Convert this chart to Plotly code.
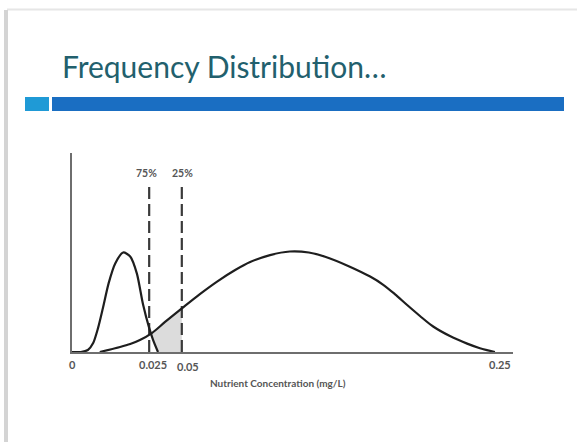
import numpy as np
import plotly.graph_objects as go

# ---- data (schematic positions on a 0-100 axis, heights 0-100) ----
narrow_x = [0, 2.0, 3.6, 4.8, 5.9, 7.0, 8.3, 9.8, 11.6, 13.2, 14.7, 16.1, 17.5, 18.4, 19.5]
narrow_y = [0, 0, 1.0, 4.5, 12.0, 22.0, 34.5, 44.5, 50.0, 48.0, 39.5, 24.0, 12.1, 6.0, 0]

broad_x = [6.3, 10.9, 13.2, 15.4, 18.1, 21.1, 24.9, 29.0, 32.9, 37.0, 40.4, 44.9, 49.4,
           53.7, 57.4, 63.0, 67.6, 70.5, 73.2, 76.0, 78.9, 81.9, 85.7, 89.6, 92.5, 95.9]
broad_y = [0, 2.5, 4.0, 6.0, 9.5, 15.1, 21.9, 29.1, 35.4, 41.2, 45.2, 48.7, 50.5,
           50.0, 47.9, 42.9, 37.9, 33.9, 29.1, 23.6, 18.1, 12.8, 8.0, 4.2, 1.9, 0]

tick_pos = [0, 17.5, 24.9, 95.9]
tick_labels = ["0", "0.025", "0.05", "0.25"]

cut_pos = [17.5, 24.9]
cut_labels = ["75%", "25%"]
cut_top = 82.9

title_text = "Frequency Distribution…"
x_title = "Nutrient Concentration (mg/L)"

W, H = 577, 442

def px(x):
    return x / W

def py(y):
    return 1 - y / H

fig = go.Figure()

# shaded area between crossing and second cut
grid = np.linspace(cut_pos[0], cut_pos[1], 200)
nb = np.interp(grid, broad_x, broad_y)
nn = np.interp(grid, narrow_x, narrow_y, right=0)
mask = nn <= nb
gx = grid[mask]
fig.add_trace(go.Scatter(x=gx, y=np.clip(nn[mask], 0, None), mode="lines",
                         line=dict(width=0), hoverinfo="skip", showlegend=False))
fig.add_trace(go.Scatter(x=gx, y=nb[mask], mode="lines", fill="tonexty",
                         fillcolor="#dcdcdc", line=dict(width=0),
                         hoverinfo="skip", showlegend=False))

# dashed cut lines
for c in cut_pos:
    fig.add_trace(go.Scatter(x=[c, c], y=[0, cut_top], mode="lines",
                             line=dict(color="#3a3a3a", width=2.2, dash="12px,5px"),
                             hoverinfo="skip", showlegend=False))

# curves
fig.add_trace(go.Scatter(x=broad_x, y=broad_y, mode="lines",
                         line=dict(color="#1e1e1e", width=2.2, shape="spline", smoothing=0.9),
                         showlegend=False))
fig.add_trace(go.Scatter(x=narrow_x, y=narrow_y, mode="lines",
                         line=dict(color="#1e1e1e", width=2.2, shape="spline", smoothing=0.7),
                         showlegend=False))

annotations = []
# cut labels
for c, lab, sh in zip(cut_pos, cut_labels, [-3, 1]):
    annotations.append(dict(x=c, y=cut_top, xref="x", yref="y", text=lab,
                            showarrow=False, yanchor="bottom", yshift=6, xshift=sh,
                            font=dict(family="Lato", size=10.5, color="#555555", weight="bold")))
# tick labels
for t, lab, sh, ys in zip(tick_pos, tick_labels, [0, 4, 6, 5], [0, 0, -2, 0]):
    annotations.append(dict(x=t, y=0, xref="x", yref="y", text=lab, showarrow=False,
                            yanchor="top", yshift=-4 + ys, xshift=sh,
                            font=dict(family="Lato", size=11, color="#555555", weight="bold")))
# axis title
annotations.append(dict(x=px(278), y=py(383), xref="paper", yref="paper", text=x_title,
                        showarrow=False, xanchor="center", yanchor="middle",
                        font=dict(family="Lato", size=10, color="#555555", weight="bold")))
# slide title
annotations.append(dict(x=px(60), y=py(66), xref="paper", yref="paper", text=title_text,
                        showarrow=False, xanchor="left", yanchor="middle",
                        font=dict(family="Lato", size=30, color="#22606d")))

shapes = [
    # slide edge (top line and left shadow)
    dict(type="line", xref="paper", yref="paper", x0=px(7), x1=1, y0=py(9.5), y1=py(9.5),
         line=dict(color="#e6e6e6", width=2)),
    dict(type="rect", xref="paper", yref="paper", x0=px(4), x1=px(8), y0=0, y1=py(10),
         fillcolor="#d4d4d4", line=dict(width=0)),
    # title bars
    dict(type="rect", xref="paper", yref="paper", x0=px(25), x1=px(49), y0=py(111), y1=py(97),
         fillcolor="#1f9ad6", line=dict(width=0)),
    dict(type="rect", xref="paper", yref="paper", x0=px(52), x1=px(564), y0=py(111), y1=py(97),
         fillcolor="#1a6ec2", line=dict(width=0)),
]

fig.update_layout(
    width=W, height=H,
    margin=dict(l=0, r=0, t=0, b=0),
    paper_bgcolor="white", plot_bgcolor="white",
    showlegend=False,
    annotations=annotations,
    shapes=shapes,
    xaxis=dict(domain=[px(72), px(513)], range=[0, 100], showgrid=False, zeroline=False,
               showticklabels=False, ticks="", showline=True, linecolor="#6e6e6e",
               linewidth=2),
    yaxis=dict(domain=[py(352), py(153)], range=[0, 100], showgrid=False, zeroline=False,
               showticklabels=False, ticks="", showline=True, linecolor="#6e6e6e",
               linewidth=2),
)

fig.write_html("out.html", config={"displayModeBar": False},
               post_script="document.body.style.margin='0';document.body.style.overflow='hidden';")
